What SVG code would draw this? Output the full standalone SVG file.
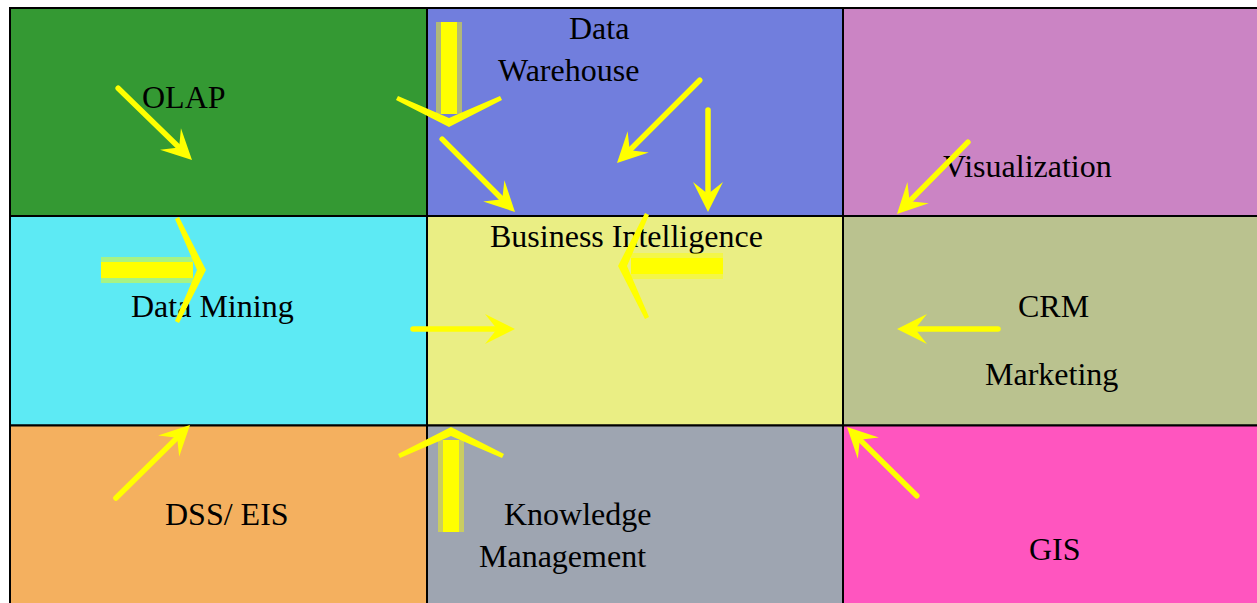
<svg xmlns="http://www.w3.org/2000/svg" xmlns:xlink="http://www.w3.org/1999/xlink" width="1257" height="603" viewBox="0 0 1257 603">
<style>
.cell{stroke:#000;stroke-width:2}
.lbl{font-family:"Liberation Serif","Times New Roman",serif;font-size:32px;fill:#000}
.thin line{stroke:#FFFF00;stroke-width:5.5;stroke-linecap:round}
.thin path{fill:#FFFF00}
.fatshaft{fill:#FFFF00}
.fatglow{fill:#FFFF00;opacity:0.45}
.chev{fill:#FFFF00}
</style>
<defs>
<g id="fat">
<rect class="fatglow" x="-104" y="-13" width="92" height="26"/>
<rect class="fatshaft" x="-104" y="-8" width="92" height="16"/>
<polygon class="chev" points="-26,-53 1,0 -26,53 -30,51 -8,0 -30,-51"/>
</g>
</defs>
<rect width="1257" height="603" fill="#fff"/>
<g id="nodes">
<g id="olap"><rect class="cell" x="10" y="8" width="417" height="208" fill="#349933"/><text class="lbl" x="142" y="108">OLAP</text></g>
<g id="data-warehouse"><rect class="cell" x="427" y="8" width="416" height="208" fill="#717EDD"/><text class="lbl" x="569" y="39">Data</text><text class="lbl" x="498" y="81">Warehouse</text></g>
<g id="visualization"><rect class="cell" x="843" y="8" width="416" height="208" fill="#CB84C4"/><text class="lbl" x="943" y="177">Visualization</text></g>
<g id="data-mining"><rect class="cell" x="10" y="216" width="417" height="209.5" fill="#5DEAF4"/><text class="lbl" x="131" y="317">Data Mining</text></g>
<g id="business-intelligence"><rect class="cell" x="427" y="216" width="416" height="209.5" fill="#EAEE84"/><text class="lbl" x="490" y="247">Business Intelligence</text></g>
<g id="crm"><rect class="cell" x="843" y="216" width="416" height="209.5" fill="#BAC28F"/><text class="lbl" x="1018" y="317">CRM</text><text class="lbl" x="985" y="385">Marketing</text></g>
<g id="dss-eis"><rect class="cell" x="10" y="425.5" width="417" height="180" fill="#F4B05F"/><text class="lbl" x="165" y="525">DSS/ EIS</text></g>
<g id="knowledge-management"><rect class="cell" x="427" y="425.5" width="416" height="180" fill="#9EA5B1"/><text class="lbl" x="504" y="525">Knowledge</text><text class="lbl" x="479" y="567">Management</text></g>
<g id="gis"><rect class="cell" x="843" y="425.5" width="416" height="180" fill="#FF55BF"/><text class="lbl" x="1029" y="560">GIS</text></g>
</g>
<g id="connectors">
<g class="thin" transform="translate(192,160) rotate(44.2)"><line x1="-103" y1="0" x2="-18" y2="0"/><path d="M0,0 L-30,-15 L-18,0 L-30,15Z"/></g>
<g class="thin" transform="translate(515,212) rotate(45)"><line x1="-103" y1="0" x2="-18" y2="0"/><path d="M0,0 L-30,-15 L-18,0 L-30,15Z"/></g>
<g class="thin" transform="translate(617,163) rotate(135)"><line x1="-117" y1="0" x2="-18" y2="0"/><path d="M0,0 L-30,-15 L-18,0 L-30,15Z"/></g>
<g class="thin" transform="translate(708,212) rotate(90)"><line x1="-102" y1="0" x2="-18" y2="0"/><path d="M0,0 L-30,-15 L-18,0 L-30,15Z"/></g>
<g class="thin" transform="translate(897,214) rotate(134.6)"><line x1="-101" y1="0" x2="-18" y2="0"/><path d="M0,0 L-30,-15 L-18,0 L-30,15Z"/></g>
<g class="thin" transform="translate(515,329) rotate(0)"><line x1="-102" y1="0" x2="-18" y2="0"/><path d="M0,0 L-30,-15 L-18,0 L-30,15Z"/></g>
<g class="thin" transform="translate(897,329) rotate(180)"><line x1="-101" y1="0" x2="-18" y2="0"/><path d="M0,0 L-30,-15 L-18,0 L-30,15Z"/></g>
<g class="thin" transform="translate(190,425) rotate(-44.6)"><line x1="-104" y1="0" x2="-18" y2="0"/><path d="M0,0 L-30,-15 L-18,0 L-30,15Z"/></g>
<g class="thin" transform="translate(847,427) rotate(224.6)"><line x1="-98" y1="0" x2="-18" y2="0"/><path d="M0,0 L-30,-15 L-18,0 L-30,15Z"/></g>
<use xlink:href="#fat" transform="translate(449,126) rotate(90)"/>
<use xlink:href="#fat" transform="translate(205,270) rotate(0)"/>
<use xlink:href="#fat" transform="translate(619,266) rotate(180)"/>
<use xlink:href="#fat" transform="translate(451,428) rotate(-90)"/>
</g>
</svg>
